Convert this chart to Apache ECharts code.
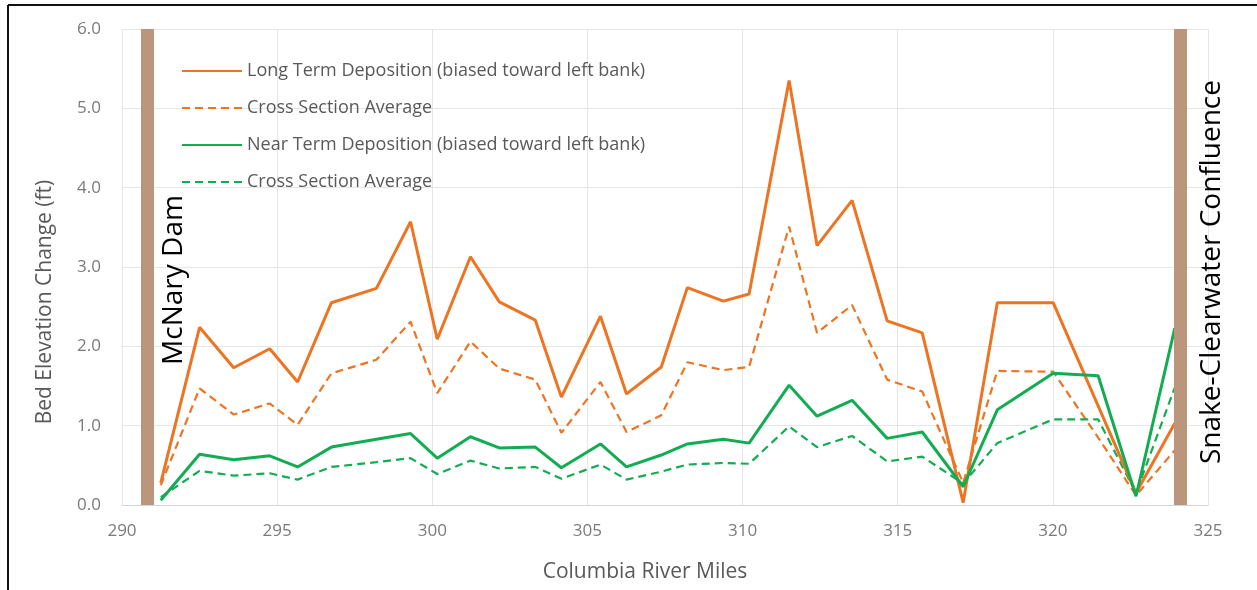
<!DOCTYPE html>
<html>
<head>
<meta charset="utf-8">
<script src="https://cdn.jsdelivr.net/npm/echarts@6/dist/echarts.min.js"></script>
<style>
  html, body { margin: 0; padding: 0; background: #fff; }
  #chart { width: 1257px; height: 590px; }
</style>
</head>
<body>
<div id="chart"></div>
<script>
// river miles of the surveyed cross sections
let miles = [291.25, 292.5, 293.6, 294.76, 295.66, 296.75, 298.2, 299.3, 300.16, 301.23,
    302.16, 303.32, 304.16, 305.42, 306.26, 307.38, 308.22, 309.38, 310.21, 311.5,
    312.4, 313.53, 314.66, 315.79, 317.11, 318.21, 320.01, 321.46, 322.68, 323.93];

let longTerm = [0.28, 2.24, 1.73, 1.97, 1.55, 2.55, 2.73, 3.57, 2.09, 3.13,
    2.56, 2.33, 1.36, 2.38, 1.40, 1.74, 2.74, 2.57, 2.66, 5.35,
    3.27, 3.84, 2.32, 2.17, 0.03, 2.55, 2.55, 1.25, 0.15, 1.03];
let longTermAvg = [0.25, 1.47, 1.14, 1.28, 1.01, 1.66, 1.83, 2.31, 1.41, 2.06,
    1.72, 1.58, 0.91, 1.55, 0.92, 1.13, 1.80, 1.70, 1.74, 3.51,
    2.17, 2.52, 1.58, 1.43, 0.28, 1.69, 1.68, 0.85, 0.12, 0.69];
let nearTerm = [0.06, 0.64, 0.57, 0.62, 0.48, 0.73, 0.83, 0.90, 0.59, 0.86,
    0.72, 0.73, 0.47, 0.77, 0.48, 0.63, 0.77, 0.83, 0.78, 1.51,
    1.12, 1.32, 0.84, 0.92, 0.23, 1.20, 1.66, 1.63, 0.11, 2.23];
let nearTermAvg = [0.10, 0.43, 0.37, 0.40, 0.32, 0.48, 0.54, 0.59, 0.39, 0.56,
    0.46, 0.48, 0.33, 0.51, 0.32, 0.42, 0.51, 0.53, 0.52, 0.99,
    0.73, 0.87, 0.55, 0.61, 0.27, 0.78, 1.08, 1.08, 0.15, 1.48];

// McNary Dam and Snake-Clearwater confluence
let barriers = [290.82, 324.11];

let xTicks = {min: 290, max: 325, interval: 5};
let yTicks = {min: 0, max: 6, interval: 1};

let legendText = {
    "long": "Long Term Deposition (biased toward left bank)",
    "longAvg": "Cross Section Average",
    "near": "Near Term Deposition (biased toward left bank)",
    "nearAvg": "Cross Section Average"
};

const ORANGE = "#ec7422";
const GREEN = "#12ad52";
const BROWN = "#bb967c";
const FONT = "Open Sans";

function pairs(ys) {
    return miles.map((m, i) => [m, ys[i]]);
}

function lineSeries(name, values, color, dashed) {
    return {
        name: name,
        type: 'line',
        data: pairs(values),
        symbol: 'none',
        color: color,
        lineStyle: {
            color: color,
            width: dashed ? 2.2 : 3,
            type: dashed ? [8, 5] : 'solid'
        },
        z: dashed ? 3 : 4
    };
}

let chart = echarts.init(document.getElementById('chart'));

let series = [
    lineSeries("long", longTerm, ORANGE, false),
    lineSeries("longAvg", longTermAvg, ORANGE, true),
    lineSeries("near", nearTerm, GREEN, false),
    lineSeries("nearAvg", nearTermAvg, GREEN, true)
];
series[0].markLine = {
    silent: true,
    symbol: 'none',
    label: {show: false},
    lineStyle: {color: BROWN, width: 13, type: 'solid'},
    data: barriers.map(b => ({xAxis: b}))
};

let option = {
    animation: false,
    backgroundColor: '#fff',
    grid: {left: 122, right: 49, top: 29, bottom: 85},
    legend: {
        orient: 'vertical',
        left: 176,
        top: 56,
        itemWidth: 60,
        itemHeight: 20,
        itemGap: 17,
        data: ["long", "longAvg", "near", "nearAvg"],
        formatter: name => legendText[name],
        itemStyle: {opacity: 0},
        textStyle: {fontFamily: FONT, fontSize: 18, color: '#595959', lineHeight: 20}
    },
    xAxis: {
        type: 'value',
        min: xTicks.min,
        max: xTicks.max,
        interval: xTicks.interval,
        axisLine: {show: true, lineStyle: {color: '#d4d4d4', width: 1}},
        axisTick: {show: false},
        axisLabel: {fontFamily: FONT, fontSize: 17, color: '#7a7a7a', margin: 18},
        splitLine: {show: true, lineStyle: {color: '#e6e6e6'}}
    },
    yAxis: {
        type: 'value',
        min: yTicks.min,
        max: yTicks.max,
        interval: yTicks.interval,
        axisLine: {show: false},
        axisTick: {show: false},
        axisLabel: {
            fontFamily: FONT, fontSize: 17, color: '#7a7a7a', margin: 21,
            formatter: v => v.toFixed(1)
        },
        splitLine: {show: true, lineStyle: {color: '#e6e6e6'}}
    },
    graphic: [
        {
            type: 'text', x: 45, y: 302, rotation: Math.PI / 2,
            style: {
                text: 'Bed Elevation Change (ft)', fontFamily: FONT, fontSize: 21,
                fill: '#595959', align: 'center', verticalAlign: 'middle'
            }
        },
        {
            type: 'text', x: 645, y: 572,
            style: {
                text: 'Columbia River Miles', fontFamily: FONT, fontSize: 21,
                fill: '#595959', align: 'center', verticalAlign: 'middle'
            }
        },
        {
            type: 'text', x: 174, y: 280, rotation: Math.PI / 2, z: 10,
            style: {
                text: 'McNary Dam', fontFamily: FONT, fontSize: 28,
                fill: '#000', align: 'center', verticalAlign: 'middle'
            }
        },
        {
            type: 'text', x: 1212, y: 272, rotation: Math.PI / 2, z: 10,
            style: {
                text: 'Snake-Clearwater Confluence', fontFamily: FONT, fontSize: 28,
                fill: '#000', align: 'center', verticalAlign: 'middle'
            }
        },
        {
            type: 'line', z: 10,
            shape: {x1: 8, y1: 5, x2: 1257, y2: 5},
            style: {stroke: '#111', lineWidth: 2}
        },
        {
            type: 'line', z: 10,
            shape: {x1: 8, y1: 5, x2: 8, y2: 590},
            style: {stroke: '#111', lineWidth: 2}
        }
    ],
    series: series
};

chart.setOption(option);
</script>
</body>
</html>
